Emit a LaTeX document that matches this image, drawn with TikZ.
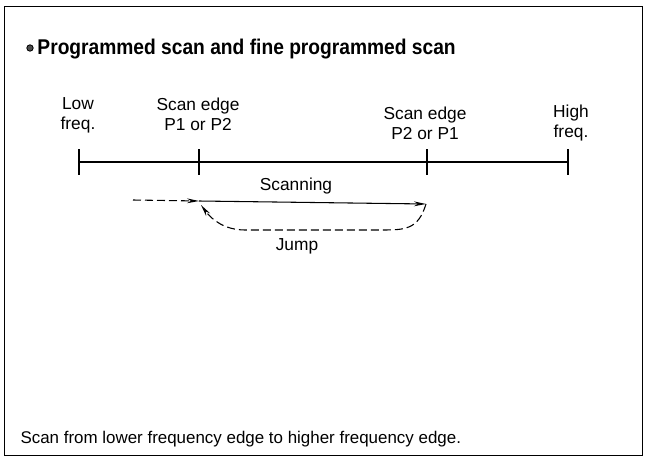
\documentclass[tikz,border=0pt]{standalone}
\usepackage{fontspec}
\setmainfont{Liberation Sans}
\usetikzlibrary{arrows.meta}
\tikzset{
  lbl/.style={align=center,font=\fontsize{13}{15}\selectfont,inner sep=0pt},
  tick/.style={line width=1pt},
  tip/.style={-{Stealth[length=9pt,width=3.6pt]}}
}
\begin{document}
\begin{tikzpicture}[x=0.75pt,y=-0.75pt,line width=0.8pt]
\useasboundingbox (0,0) rectangle (646,460);
\draw[line width=0.6pt] (4,6) rectangle (642,455);
% title
\draw[line width=0.6pt,fill=black!70] (30,48) circle (2.4pt);
\node[anchor=base west,inner sep=0pt,xscale=0.9,font=\bfseries\fontsize{16}{19}\selectfont] (title) at (37,55) {Programmed scan and fine programmed scan};
% frequency axis
\coordinate (low) at (79,162);
\coordinate (p1) at (199,162);
\coordinate (p2) at (427,162);
\coordinate (high) at (568,162);
\draw (low) -- (high);
\foreach \c in {low,p1,p2,high}
  \draw[tick] (\c) ++(0,-13) -- ++(0,26);
\node[lbl] (lowlbl) at (78,115) {Low\\freq.};
\node[lbl] (p1lbl) at (198,114) {Scan edge\\P1 or P2};
\node[lbl] (p2lbl) at (425,123) {Scan edge\\P2 or P1};
\node[lbl] (highlbl) at (571,123) {High\\freq.};
% scan and jump
\coordinate (in) at (133,200);
\coordinate (s1) at (199,201);
\coordinate (s2) at (426,204);
\coordinate (s1b) at (201,205);
\draw[tip,dash pattern=on 6pt off 3pt] (in) -- (s1);
\draw[tip] (s1) -- (s2);
\node[lbl] (scanlbl) at (296,186) {Scanning};
\draw[tip,dash pattern=on 6pt off 3pt] (s2) .. controls (418,230) and (405,230) .. (380,230) -- (245,230) .. controls (225,230) and (212,220) .. (s1b);
\node[lbl] (jumplbl) at (297,246) {Jump};
% note
\node[lbl,anchor=base west,font=\fontsize{12.7}{15}\selectfont] (note) at (20,443) {Scan from lower frequency edge to higher frequency edge.};
\end{tikzpicture}
\end{document}
